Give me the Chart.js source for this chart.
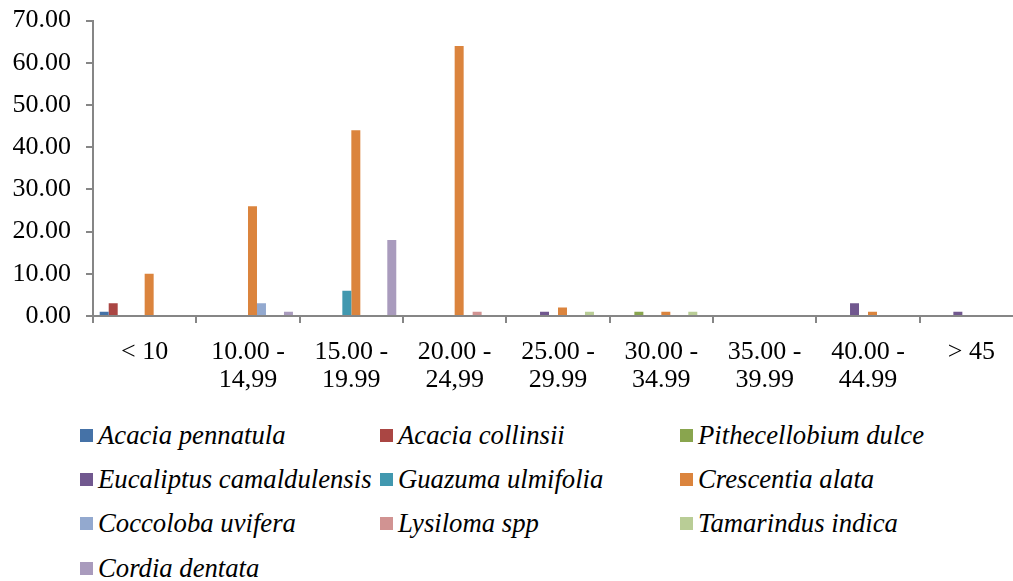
<!DOCTYPE html>
<html><head><meta charset="utf-8">
<script src="https://cdn.jsdelivr.net/npm/chart.js@4"></script>
<style>
html,body{margin:0;padding:0;width:1013px;height:581px;overflow:hidden;background:#fff;}
#wrap{position:absolute;left:0;top:-10px;width:1025px;height:415px;}
#legend{position:absolute;left:80px;top:413px;display:grid;grid-template-columns:300px 300px 300px;grid-auto-rows:44.3px;font-family:"Liberation Serif","Times New Roman",serif;font-style:italic;font-size:26.7px;color:#000;}
.item{display:flex;align-items:center;white-space:nowrap;}
.sw{width:13px;height:13px;margin-right:5px;flex:none;}
</style></head>
<body>
<div id="wrap"><canvas id="c"></canvas></div>
<div id="legend"></div>
<script>
const categories = [["< 10"],["10.00 -","14,99"],["15.00 -","19.99"],["20.00 -","24,99"],["25.00 -","29.99"],["30.00 -","34.99"],["35.00 -","39.99"],["40.00 -","44.99"],["> 45"]];
const seriesNames = ["Acacia pennatula","Acacia collinsii","Pithecellobium dulce","Eucaliptus camaldulensis","Guazuma ulmifolia","Crescentia alata","Coccoloba uvifera","Lysiloma spp","Tamarindus indica","Cordia dentata"];
const acaciaPennatula      = [1,0,0,0,0,0,0,0,0];
const acaciaCollinsii      = [3,0,0,0,0,0,0,0,0];
const pithecellobiumDulce  = [0,0,0,0,0,1,0,0,0];
const eucaliptus           = [0,0,0,0,1,0,0,3,1];
const guazumaUlmifolia     = [0,0,6,0,0,0,0,0,0];
const crescentiaAlata      = [10,26,44,64,2,1,0,1,0];
const coccolobaUvifera     = [0,3,0,0,0,0,0,0,0];
const lysilomaSpp          = [0,0,0,1,0,0,0,0,0];
const tamarindusIndica     = [0,0,0,0,1,1,0,0,0];
const cordiaDentata        = [0,1,18,0,0,0,0,0,0];
const seriesValues = [acaciaPennatula,acaciaCollinsii,pithecellobiumDulce,eucaliptus,guazumaUlmifolia,crescentiaAlata,coccolobaUvifera,lysilomaSpp,tamarindusIndica,cordiaDentata];
const colors = ["#4572A7","#AA4643","#89A54E","#71588F","#4198AF","#DB843D","#93A9CF","#D19392","#B9CD96","#A99BBD"];
const yTicks = [0,10,20,30,40,50,60,70];

const family = "'Liberation Serif', 'Times New Roman', serif";
const chart = new Chart(document.getElementById('c'), {
  type:'bar',
  data:{
    labels:categories,
    datasets:seriesNames.map((n,i)=>({label:n,data:seriesValues[i],backgroundColor:colors[i],borderWidth:0,categoryPercentage:0.87,barPercentage:1}))
  },
  options:{
    responsive:true, maintainAspectRatio:false, animation:false,
    layout:{padding:{top:0,right:2,left:0,bottom:0}},
    plugins:{legend:{display:false},tooltip:{enabled:false}},
    scales:{
      x:{
        grid:{display:true,drawOnChartArea:false,drawTicks:true,tickLength:7,color:'#868686',lineWidth:2,offset:true},
        border:{display:true,color:'#868686',width:2},
        ticks:{color:'#000',font:{family:family,size:26,lineHeight:1.08},padding:15,maxRotation:0,autoSkip:false},
        afterFit:(s)=>{s.height=89;}
      },
      y:{
        min:0,max:70,
        afterBuildTicks:(s)=>{s.ticks=yTicks.map(v=>({value:v}));},
        grid:{display:true,drawOnChartArea:false,drawTicks:true,tickLength:7,color:'#868686',lineWidth:2},
        border:{display:true,color:'#868686',width:2},
        ticks:{color:'#000',font:{family:family,size:26},padding:15,callback:(v)=>v.toFixed(2)},
        afterFit:(s)=>{s.width=93;}
      }
    }
  }
});

const lg = document.getElementById('legend');
chart.data.datasets.forEach(ds=>{
  const it=document.createElement('div'); it.className='item';
  const sw=document.createElement('span'); sw.className='sw'; sw.style.background=ds.backgroundColor;
  const tx=document.createElement('span'); tx.textContent=ds.label;
  it.appendChild(sw); it.appendChild(tx); lg.appendChild(it);
});
</script>
</body></html>
